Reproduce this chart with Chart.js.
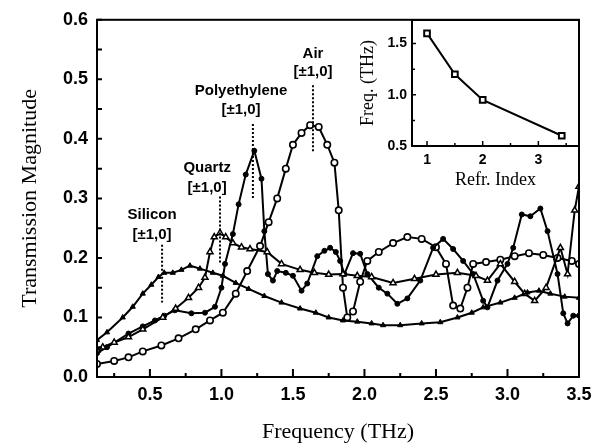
<!DOCTYPE html>
<html><head><meta charset="utf-8">
<script src="https://cdn.jsdelivr.net/npm/chart.js"></script>
<style>
html,body{margin:0;padding:0;background:#fff;}
#wrap{position:relative;width:602px;height:447px;overflow:hidden;}
#main{position:absolute;left:0;top:0;}
#inset{position:absolute;left:340px;top:0;}
</style></head><body>
<div id="wrap"><canvas id="main" width="602" height="447"></canvas><canvas id="inset" width="262" height="200"></canvas></div>
<script>
// ---------- data: main chart ----------
const siliconFreq = [0.13,0.2,0.31,0.38,0.45,0.51,0.56,0.6,0.66,0.72,0.78,0.85,0.94,1.01,1.1,1.19,1.3,1.42,1.55,1.66,1.75,1.85,1.95,2.05,2.13,2.25,2.4,2.53,2.65,2.75,2.83,2.95,3.05,3.14,3.22,3.3,3.4,3.5];
const siliconMag  = [0.062,0.075,0.1,0.118,0.14,0.155,0.168,0.175,0.175,0.18,0.187,0.182,0.175,0.17,0.158,0.148,0.136,0.125,0.115,0.108,0.1,0.095,0.093,0.09,0.087,0.087,0.09,0.092,0.1,0.108,0.117,0.125,0.133,0.142,0.145,0.14,0.135,0.133];

const quartzFreq = [0.13,0.17,0.25,0.35,0.45,0.59,0.68,0.77,0.84,0.885,0.92,0.95,0.99,1.03,1.08,1.14,1.2,1.32,1.42,1.55,1.65,1.75,1.85,1.95,2.05,2.2,2.35,2.5,2.65,2.78,2.86,2.95,3.05,3.12,3.19,3.27,3.37,3.42,3.47,3.5];
const quartzMag  = [0.045,0.05,0.058,0.067,0.08,0.1,0.115,0.133,0.15,0.167,0.21,0.235,0.242,0.235,0.225,0.218,0.215,0.21,0.19,0.18,0.175,0.172,0.173,0.17,0.168,0.158,0.165,0.172,0.175,0.17,0.162,0.19,0.16,0.14,0.128,0.15,0.217,0.173,0.28,0.32];

const polyFreq = [0.13,0.2,0.35,0.45,0.535,0.6,0.675,0.79,0.885,0.955,1.0,1.025,1.08,1.12,1.17,1.23,1.28,1.3,1.325,1.36,1.39,1.45,1.5,1.56,1.6,1.67,1.72,1.76,1.8,1.83,1.86,1.92,1.97,2.02,2.1,2.16,2.23,2.3,2.39,2.48,2.55,2.62,2.69,2.76,2.83,2.86,2.93,3.0,3.04,3.1,3.16,3.23,3.28,3.35,3.39,3.42,3.46,3.5];
const polyMag  = [0.04,0.05,0.073,0.085,0.095,0.103,0.112,0.107,0.108,0.118,0.15,0.19,0.24,0.29,0.34,0.38,0.333,0.245,0.173,0.162,0.178,0.175,0.17,0.145,0.157,0.203,0.212,0.217,0.21,0.195,0.173,0.208,0.207,0.173,0.15,0.14,0.123,0.132,0.162,0.217,0.232,0.215,0.195,0.173,0.128,0.117,0.162,0.19,0.217,0.273,0.27,0.283,0.245,0.173,0.107,0.09,0.103,0.103];

const airFreq = [0.13,0.25,0.35,0.45,0.58,0.7,0.82,0.92,1.01,1.1,1.18,1.27,1.33,1.39,1.45,1.5,1.56,1.62,1.68,1.74,1.79,1.82,1.85,1.88,1.92,1.97,2.02,2.1,2.2,2.3,2.4,2.5,2.57,2.62,2.67,2.72,2.76,2.85,2.95,3.05,3.15,3.25,3.35,3.45,3.5];
const airMag  = [0.022,0.027,0.033,0.043,0.053,0.065,0.08,0.095,0.108,0.14,0.178,0.22,0.26,0.3,0.35,0.39,0.41,0.423,0.42,0.39,0.36,0.28,0.15,0.1,0.11,0.16,0.195,0.21,0.225,0.235,0.232,0.218,0.19,0.12,0.115,0.15,0.19,0.193,0.197,0.203,0.208,0.205,0.2,0.195,0.19];

const xTickValues  = [0.5,1.0,1.5,2.0,2.5,3.0,3.5];
const xMinorValues = [0.25,0.75,1.25,1.75,2.25,2.75,3.25];
const yTickValues  = [0.0,0.1,0.2,0.3,0.4,0.5,0.6];
const yMinorValues = [0.05,0.15,0.25,0.35,0.45,0.55];

// annotations: name, text x, name y, bracket y, dashed x, dashed top, dashed bottom
const annNames   = ['Silicon','Quartz','Polyethylene','Air'];
const annTextX   = [0.515,0.9,1.137,1.64];
const annNameY   = [0.273,0.352,0.48,0.543];
const annOrderY  = [0.238,0.318,0.448,0.512];
const annLineX   = [0.585,0.99,1.22,1.64];
const annLineTop = [0.222,0.303,0.425,0.49];
const annLineBot = [0.125,0.19,0.3,0.378];
const annOrder   = '[±1,0]';

// ---------- data: inset ----------
const refrIndex = [1,1.5,2,3.42];
const peakFreq  = [1.6,1.2,0.95,0.6];
const insetXTicks = [1,2,3];
const insetXMinor = [1.5,2.5,3.5];
const insetYTicks = [0.5,1.0,1.5];
const insetYMinor = [0.75,1.25];

const pts = (xs, ys) => xs.map((x,i)=>({x:x, y:ys[i]}));
const SANS = '"Liberation Sans", Arial, sans-serif';
const SERIF = '"Liberation Serif", "Times New Roman", serif';

function frameAndTicks(opts){
  return {
    id:'frameTicks',
    afterDatasetsDraw(chart){
      const {ctx, chartArea:a, scales} = chart;
      ctx.save();
      ctx.strokeStyle = '#000';
      ctx.lineWidth = opts.tickWidth;
      const xs = scales.x, ys = scales.y;
      ctx.beginPath();
      opts.xMajor.forEach(v=>{const p=xs.getPixelForValue(v); ctx.moveTo(p,a.bottom); ctx.lineTo(p,a.bottom-opts.xMajorLen);});
      opts.xMinor.forEach(v=>{const p=xs.getPixelForValue(v); ctx.moveTo(p,a.bottom); ctx.lineTo(p,a.bottom-opts.xMinorLen);});
      opts.yMajor.forEach(v=>{const p=ys.getPixelForValue(v); ctx.moveTo(a.left,p); ctx.lineTo(a.left+opts.yMajorLen,p);});
      opts.yMinor.forEach(v=>{const p=ys.getPixelForValue(v); ctx.moveTo(a.left,p); ctx.lineTo(a.left+opts.yMinorLen,p);});
      ctx.stroke();
      ctx.lineWidth = opts.frameWidth;
      ctx.strokeRect(a.left, a.top, a.right-a.left, a.bottom-a.top);
      ctx.restore();
    }
  };
}

const annotationPlugin = {
  id:'ann',
  afterDatasetsDraw(chart){
    const {ctx, scales:{x, y}} = chart;
    ctx.save();
    ctx.strokeStyle = '#000';
    ctx.lineWidth = 2;
    ctx.setLineDash([2,2]);
    annNames.forEach((n,i)=>{
      const px = x.getPixelForValue(annLineX[i]);
      ctx.beginPath();
      ctx.moveTo(px, y.getPixelForValue(annLineTop[i]));
      ctx.lineTo(px, y.getPixelForValue(annLineBot[i]));
      ctx.stroke();
    });
    ctx.setLineDash([]);
    ctx.fillStyle = '#000';
    ctx.font = 'bold 15px ' + SANS;
    ctx.textAlign = 'center';
    ctx.textBaseline = 'middle';
    annNames.forEach((n,i)=>{
      const px = x.getPixelForValue(annTextX[i]);
      ctx.fillText(n, px, y.getPixelForValue(annNameY[i]));
      ctx.fillText(annOrder, px, y.getPixelForValue(annOrderY[i]));
    });
    ctx.restore();
  }
};

const lineBase = {borderColor:'#000', borderWidth:2, tension:0, pointBorderColor:'#000', fill:false};

new Chart(document.getElementById('main'), {
  type:'line',
  data:{datasets:[
    Object.assign({}, lineBase, {label:'Silicon', data:pts(siliconFreq, siliconMag), pointStyle:'triangle', pointRadius:3, pointBackgroundColor:'#000', pointBorderWidth:1}),
    Object.assign({}, lineBase, {label:'Quartz', data:pts(quartzFreq, quartzMag), pointStyle:'triangle', pointRadius:3.5, pointBackgroundColor:'#fff', pointBorderWidth:1.5}),
    Object.assign({}, lineBase, {label:'Polyethylene', data:pts(polyFreq, polyMag), pointStyle:'circle', pointRadius:2.5, pointBackgroundColor:'#000', pointBorderWidth:1}),
    Object.assign({}, lineBase, {label:'Air', data:pts(airFreq, airMag), pointStyle:'circle', pointRadius:3.2, pointBackgroundColor:'#fff', pointBorderWidth:1.6})
  ]},
  options:{
    responsive:false, animation:false, devicePixelRatio:1,
    layout:{padding:{left:0, top:17, right:23, bottom:0}},
    plugins:{legend:{display:false}, tooltip:{enabled:false}},
    scales:{
      x:{type:'linear', min:0.13, max:3.5,
        afterBuildTicks:s=>{s.ticks = xTickValues.map(v=>({value:v}));},
        afterFit:s=>{s.height = 70;},
        grid:{display:false, drawTicks:false}, border:{display:false},
        ticks:{padding:7, color:'#000', autoSkip:false, maxRotation:0, font:{family:SANS, size:18, weight:'bold'}, callback:v=>Number(v).toFixed(1)},
        title:{display:true, text:'Frequency (THz)', color:'#000', font:{family:SERIF, size:22}, padding:{top:0, bottom:2}}
      },
      y:{type:'linear', min:0, max:0.6,
        afterBuildTicks:s=>{s.ticks = yTickValues.map(v=>({value:v}));},
        afterFit:s=>{s.width = 97;},
        grid:{display:false, drawTicks:false}, border:{display:false},
        ticks:{padding:9, color:'#000', font:{family:SANS, size:18, weight:'bold'}, callback:v=>Number(v).toFixed(1)},
        title:{display:true, text:'Transmission Magnitude', color:'#000', font:{family:SERIF, size:22}, padding:{top:17, bottom:0}}
      }
    }
  },
  plugins:[frameAndTicks({xMajor:xTickValues, xMinor:xMinorValues, yMajor:yTickValues, yMinor:yMinorValues, xMajorLen:8, xMinorLen:4, yMajorLen:5, yMinorLen:5, tickWidth:2, frameWidth:2}), annotationPlugin]
});

const insetBg = {
  id:'insetBg',
  beforeDatasetsDraw(chart){
    const {ctx, chartArea:a} = chart;
    ctx.save(); ctx.fillStyle = '#fff'; ctx.fillRect(a.left, a.top, a.right-a.left, a.bottom-a.top); ctx.restore();
  }
};

new Chart(document.getElementById('inset'), {
  type:'line',
  data:{datasets:[
    Object.assign({}, lineBase, {label:'Peak', data:pts(refrIndex, peakFreq), pointStyle:'rect', pointRadius:4, pointBackgroundColor:'#fff', pointBorderWidth:2, clip:6})
  ]},
  options:{
    responsive:false, animation:false, devicePixelRatio:1,
    layout:{padding:{left:0, top:20, right:23, bottom:0}},
    plugins:{legend:{display:false}, tooltip:{enabled:false}},
    scales:{
      x:{type:'linear', min:0.73, max:3.73,
        afterBuildTicks:s=>{s.ticks = insetXTicks.map(v=>({value:v}));},
        afterFit:s=>{s.height = 54;},
        grid:{display:false, drawTicks:false}, border:{display:false},
        ticks:{padding:6, color:'#000', autoSkip:false, maxRotation:0, font:{family:SANS, size:14, weight:'bold'}, callback:v=>String(v)},
        title:{display:true, text:'Refr. Index', color:'#000', font:{family:SERIF, size:18}, padding:{top:0, bottom:9}}
      },
      y:{type:'linear', min:0.5, max:1.73,
        afterBuildTicks:s=>{s.ticks = insetYTicks.map(v=>({value:v}));},
        afterFit:s=>{s.width = 72;},
        grid:{display:false, drawTicks:false}, border:{display:false},
        ticks:{padding:5, color:'#000', font:{family:SANS, size:14, weight:'bold'}, callback:v=>Number(v).toFixed(1)},
        title:{display:true, text:'Freq. (THz)', color:'#000', font:{family:SERIF, size:18}, padding:{top:17, bottom:0}}
      }
    }
  },
  plugins:[insetBg, frameAndTicks({xMajor:insetXTicks, xMinor:insetXMinor, yMajor:insetYTicks, yMinor:insetYMinor, xMajorLen:5, xMinorLen:3, yMajorLen:4, yMinorLen:3, tickWidth:1.5, frameWidth:2})]
});
</script>
</body></html>
